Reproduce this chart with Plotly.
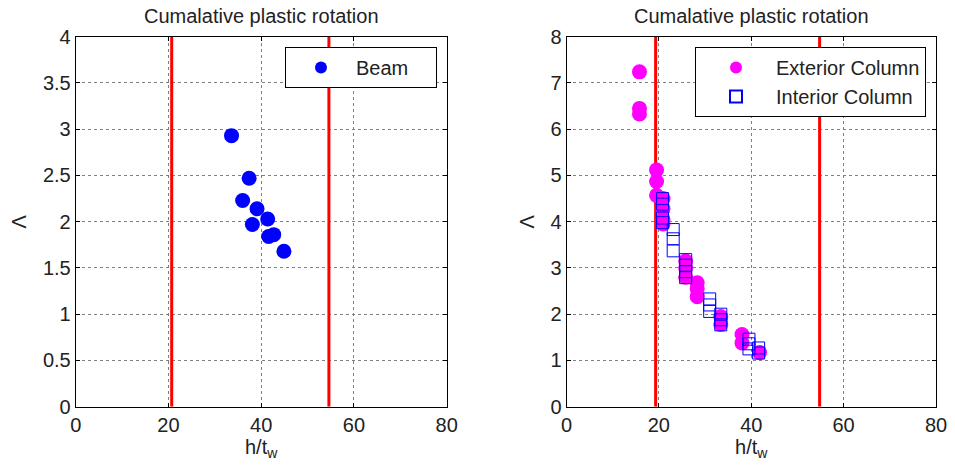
import plotly.graph_objects as go

# Beam data (left panel)
beam_x = [33.6, 37.4, 36.0, 39.1, 41.4, 38.1, 41.6, 42.7, 44.9]
beam_y = [2.93, 2.47, 2.23, 2.14, 2.03, 1.97, 1.84, 1.86, 1.68]

# Exterior column data (right panel)
ext_x = [15.8, 15.8, 15.8, 19.5, 19.5, 19.5, 20.9, 20.9, 20.9, 20.9,
         25.8, 25.8, 25.8, 28.3, 28.3, 28.3, 33.4, 33.4, 38.0, 38.0, 41.8]
ext_y = [7.24, 6.45, 6.33, 5.12, 4.87, 4.57, 4.50, 4.28, 4.05, 3.95,
         3.15, 3.00, 2.80, 2.68, 2.55, 2.38, 1.95, 1.78, 1.56, 1.38, 1.17]

# Interior column data (right panel)
int_x = [20.8, 20.8, 20.8, 20.8, 23.1, 23.1, 23.1, 25.8, 25.8, 25.8, 25.8,
         31.0, 31.0, 31.0, 33.4, 33.4, 33.4, 39.5, 39.5, 39.5, 41.6, 41.6]
int_y = [4.50, 4.38, 4.08, 3.98, 3.83, 3.63, 3.37, 3.18, 3.06, 2.92, 2.79,
         2.33, 2.20, 2.06, 2.00, 1.88, 1.77, 1.46, 1.36, 1.25, 1.27, 1.16]

# Limit lines
left_limits = [20.7, 54.6]
right_limits = [19.3, 54.8]
left_yrange = [0, 4]
right_yrange = [0, 8]

title = "Cumalative plastic rotation"
FONT = "Liberation Sans, Arial, sans-serif"
FS = 20
TXT = "#222222"
NB = "\u00a0"

fig = go.Figure()

for xv in left_limits:
    fig.add_trace(go.Scatter(x=[xv, xv], y=left_yrange, mode="lines",
                             line=dict(color="#ff0000", width=3),
                             showlegend=False, xaxis="x", yaxis="y", hoverinfo="skip"))
for xv in right_limits:
    fig.add_trace(go.Scatter(x=[xv, xv], y=right_yrange, mode="lines",
                             line=dict(color="#ff0000", width=3),
                             showlegend=False, xaxis="x2", yaxis="y2", hoverinfo="skip"))

fig.add_trace(go.Scatter(x=beam_x, y=beam_y, mode="markers", name="Beam" + NB * 4,
                         marker=dict(symbol="circle", size=15, color="#0000ff",
                                     line=dict(width=0)),
                         xaxis="x", yaxis="y", legend="legend"))
fig.add_trace(go.Scatter(x=ext_x, y=ext_y, mode="markers", name="Exterior Column",
                         legendgroup="ext",
                         marker=dict(symbol="circle", size=15, color="#ff00ff",
                                     line=dict(width=0)),
                         xaxis="x2", yaxis="y2", legend="legend2"))
fig.add_trace(go.Scatter(x=int_x, y=int_y, mode="markers", name="Interior Column",
                         legendgroup="int",
                         marker=dict(symbol="square-open", size=12, color="#0000ff",
                                     line=dict(width=1, color="#0000ff")),
                         xaxis="x2", yaxis="y2", legend="legend2"))

W, H = 955, 473
xd1 = [75.7 / W, 446.7 / W]
xd2 = [566.5 / W, 936.0 / W]
yd = [1 - 406.7 / H, 1 - 36.7 / H]

axis_common = dict(showline=True, linecolor="black", linewidth=1, mirror="ticks",
                   ticks="inside", ticklen=4, tickcolor="black", automargin=False,
                   showgrid=True, gridcolor="#808080", griddash="dot", gridwidth=1,
                   zeroline=False, tickfont=dict(size=FS, color=TXT, family=FONT))

fig.update_layout(
    template="none",
    width=W, height=H,
    margin=dict(l=0, r=0, t=0, b=0, pad=0, autoexpand=False),
    paper_bgcolor="white", plot_bgcolor="white",
    font=dict(family=FONT, color=TXT, size=FS),
    xaxis=dict(domain=xd1, range=[0, 80], dtick=20, anchor="y",
               title=dict(text="h/t<sub>w</sub>", font=dict(size=FS), standoff=2),
               **axis_common),
    yaxis=dict(domain=yd, range=left_yrange, dtick=0.5, anchor="x",
               title=dict(text="Λ", font=dict(size=FS), standoff=10),
               **axis_common),
    xaxis2=dict(domain=xd2, range=[0, 80], dtick=20, anchor="y2",
                title=dict(text="h/t<sub>w</sub>", font=dict(size=FS), standoff=2),
                **axis_common),
    yaxis2=dict(domain=yd, range=right_yrange, dtick=1, anchor="x2",
                title=dict(text="Λ", font=dict(size=FS), standoff=10),
                **axis_common),
    legend=dict(x=437 / W, y=1 - 47 / H, xanchor="right", yanchor="top",
                bgcolor="white", bordercolor="black", borderwidth=1,
                font=dict(size=FS, color=TXT), itemsizing="constant",
                itemwidth=60, tracegroupgap=0),
    legend2=dict(x=926 / W, y=1 - 47 / H, xanchor="right", yanchor="top",
                 bgcolor="white", bordercolor="black", borderwidth=1,
                 font=dict(size=FS, color=TXT), itemsizing="constant",
                 itemwidth=70, tracegroupgap=0),
    annotations=[
        dict(text=title, x=(xd1[0] + xd1[1]) / 2, y=1 - 16 / H, xref="paper", yref="paper",
             showarrow=False, font=dict(size=FS, color=TXT), xanchor="center", yanchor="middle"),
        dict(text=title, x=(xd2[0] + xd2[1]) / 2, y=1 - 16 / H, xref="paper", yref="paper",
             showarrow=False, font=dict(size=FS, color=TXT), xanchor="center", yanchor="middle"),
    ],
)

fig.write_html("out.html")
